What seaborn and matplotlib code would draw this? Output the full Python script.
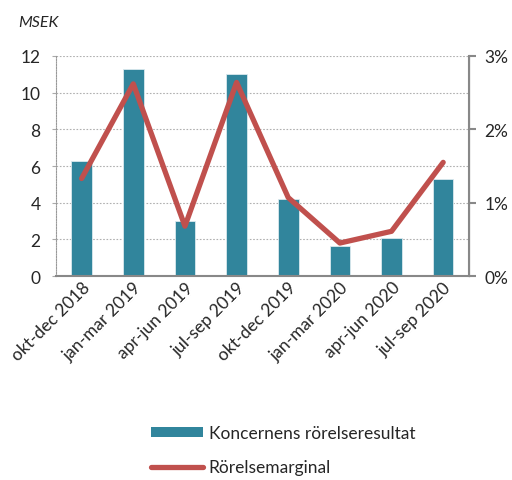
import numpy as np
import pandas as pd
import seaborn as sns
import matplotlib.pyplot as plt
from matplotlib.ticker import FuncFormatter
from matplotlib.lines import Line2D
from matplotlib.patches import Patch

# data
periods = ['okt-dec 2018', 'jan-mar 2019', 'apr-jun 2019', 'jul-sep 2019',
           'okt-dec 2019', 'jan-mar 2020', 'apr-jun 2020', 'jul-sep 2020']
resultat = [6.3, 11.3, 3.0, 11.0, 4.2, 1.65, 2.1, 5.3]        # MSEK
marginal = [1.33, 2.62, 0.68, 2.64, 1.07, 0.45, 0.61, 1.55]  # %

bar_color = '#31859c'
line_color = '#c0504d'
axis_grey = '#888888'

sns.set_style('white')
plt.rcParams['font.family'] = ['Lato', 'DejaVu Sans']

fig = plt.figure(figsize=(5.12, 4.81), dpi=100)
ax = fig.add_axes([0.109, 0.424, 0.807, 0.4575])

df = pd.DataFrame({'period': periods, 'resultat': resultat, 'marginal': marginal})
sns.barplot(data=df, x='period', y='resultat', color=bar_color, saturation=1,
            width=0.4, edgecolor='#dbe9ee', linewidth=0.6, ax=ax, zorder=2)
ax.set_ylim(0, 12)
ax.set_xlim(-0.5, len(periods) - 0.5)
ax.set_yticks(range(0, 13, 2))
ax.yaxis.grid(True, linestyle=(0, (1.5, 1.5)), color='#b0b0b0', linewidth=0.8)
ax.set_axisbelow(True)
ax.set_xlabel('')
ax.set_ylabel('')
ax.tick_params(axis='y', labelsize=12.5, length=3, color='#aaaaaa', left=True, pad=8)
ax.tick_params(axis='x', labelsize=12.5, length=0, pad=2)
plt.setp(ax.get_xticklabels(), rotation=45, ha='right', rotation_mode='anchor')

ax.spines['top'].set_visible(False)
ax.spines['left'].set_linestyle((0, (1.2, 1.2)))
ax.spines['left'].set_color('#999999')
ax.spines['bottom'].set_color(axis_grey)
ax.spines['bottom'].set_linewidth(1.5)

ax2 = ax.twinx()
sns.lineplot(x=np.arange(len(periods)), y=marginal, color=line_color,
             linewidth=3.8, ax=ax2, zorder=3, solid_capstyle='round')
ax2.set_ylim(0, 3)
ax2.set_yticks([0, 1, 2, 3])
ax2.yaxis.set_major_formatter(FuncFormatter(lambda v, p: f'{v:.0f}%'))
ax2.tick_params(axis='y', labelsize=12.5, length=5, width=1.5, color=axis_grey, right=True, pad=6)
for s in ['top', 'left', 'bottom']:
    ax2.spines[s].set_visible(False)
ax2.spines['right'].set_color(axis_grey)
ax2.spines['right'].set_linewidth(1.5)

fig.text(0.035, 0.953, 'MSEK', fontsize=11.5, style='italic', ha='left', va='center')

handles = [Patch(facecolor=bar_color, edgecolor='none'),
           Line2D([0], [0], color=line_color, linewidth=3.8, solid_capstyle='round')]
fig.legend(handles, ['Koncernens rörelseresultat', 'Rörelsemarginal'],
           loc='center left', bbox_to_anchor=(0.265, 0.062), frameon=False,
           fontsize=12.5, handlelength=3.0, handleheight=0.55, labelspacing=1.05,
           handletextpad=0.3)

plt.savefig('out.png', dpi=100)
